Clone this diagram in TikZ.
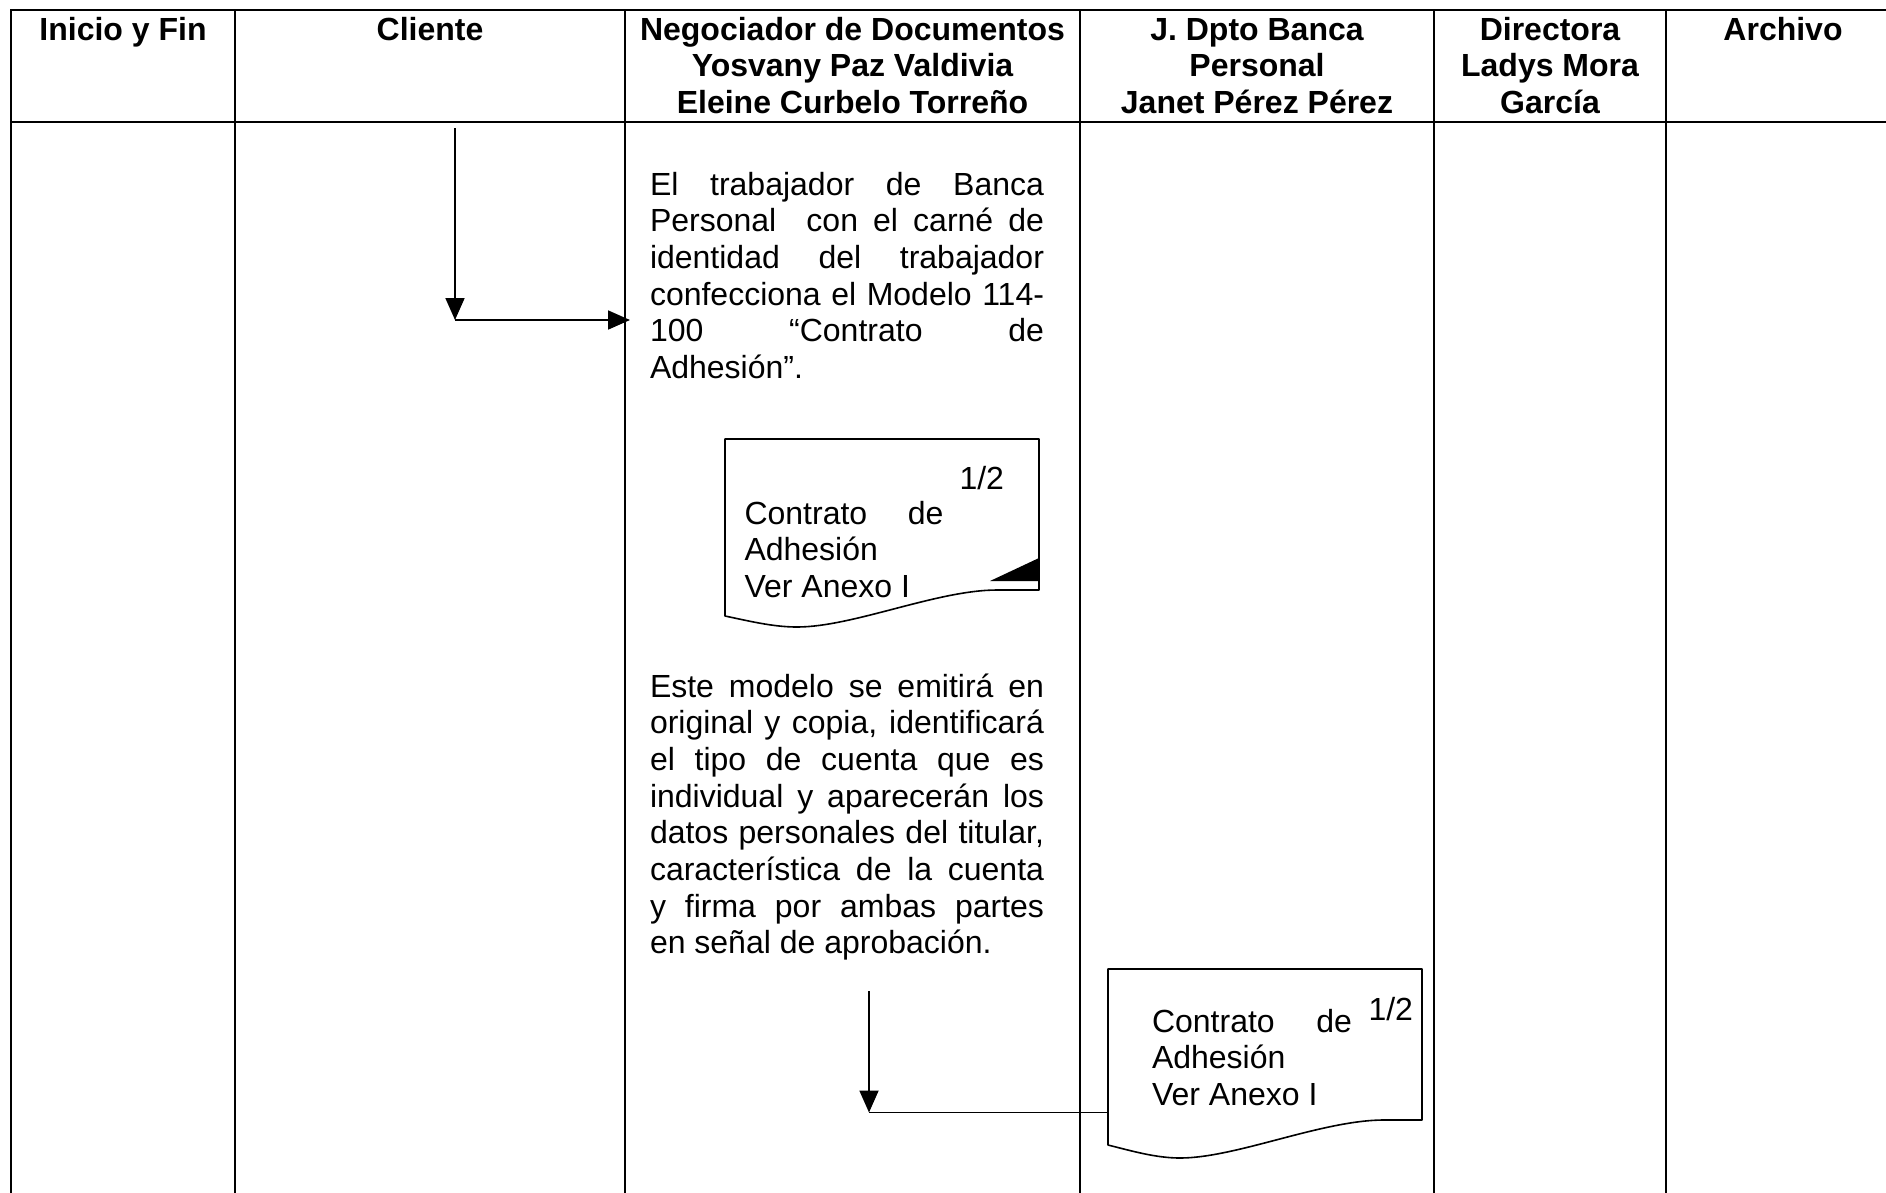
\documentclass[tikz,border=0pt]{standalone}
\usepackage{fontspec}
\setmainfont{Liberation Sans}
\usetikzlibrary{arrows.meta,calc}
\newcommand\jusln[2]{\hbox{\makebox[#1][s]{#2}}}
\newcommand\plainln[1]{\hbox{#1}}
\newcommand\ctrln[1]{\hbox to 0pt{\hss#1\hss}}
\newcommand\txtblock[1]{\vtop{\baselineskip=36.7pt\lineskiplimit=-100pt\lineskip=0pt #1}}
\tikzset{
  txt/.style={inner sep=0pt, outer sep=0pt, font=\fontsize{32}{36.7}\selectfont},
  hdr/.style={txt, anchor=base, font=\fontsize{32}{36.7}\selectfont\bfseries},
  tbl/.style={line width=2.2pt},
  arr/.style={line width=1.8pt, -{Triangle[length=22pt,width=19pt]}},
  ln/.style={line width=1.8pt},
  docline/.style={line width=1.6pt, line join=round},
  docbox/.style={inner sep=0pt, outer sep=0pt, minimum width=314pt, minimum height=151pt}
}
\begin{document}
\begin{tikzpicture}[x=1pt,y=-1pt]
\useasboundingbox (0,0) rectangle (1886,1192);
\fill[white] (0,0) rectangle (1886,1192);
\clip (0,0) rectangle (1886,1192);
% table grid
\draw[tbl] (11,1200) -- (11,10) -- (1900,10);
\draw[tbl] (11,122) -- (1900,122);
\foreach \xx in {235,625,1080,1434,1666}{\draw[tbl] (\xx,10) -- (\xx,1200);}
% headers
\node[hdr] (h1) at (123,40) {\txtblock{\ctrln{Inicio y Fin}}};
\node[hdr] (h2) at (430,40) {\txtblock{\ctrln{Cliente}}};
\node[hdr] (h3) at (852.5,40) {\txtblock{\ctrln{Negociador de Documentos}\ctrln{Yosvany Paz Valdivia}\ctrln{Eleine Curbelo Torreño}}};
\node[hdr] (h4) at (1257,40) {\txtblock{\ctrln{J. Dpto Banca}\ctrln{Personal}\ctrln{Janet Pérez Pérez}}};
\node[hdr] (h5) at (1550,40) {\txtblock{\ctrln{Directora}\ctrln{Ladys Mora}\ctrln{García}}};
\node[hdr] (h6) at (1783,40) {\txtblock{\ctrln{Archivo}}};
% paragraph 1
\node[txt, anchor=base west] (p1) at (650,195) {\txtblock{%
\jusln{394pt}{El trabajador de Banca}%
\jusln{394pt}{Personal\ \ con el carné de}%
\jusln{394pt}{identidad del trabajador}%
\jusln{394pt}{confecciona el Modelo 114-}%
\jusln{394pt}{100 “Contrato de}%
\plainln{Adhesión”.}}};
% paragraph 2
\node[txt, anchor=base west] (p2) at (650,697) {\txtblock{%
\jusln{394pt}{Este modelo se emitirá en}%
\jusln{394pt}{original y copia, identificará}%
\jusln{394pt}{el tipo de cuenta que es}%
\jusln{394pt}{individual y aparecerán los}%
\jusln{394pt}{datos personales del titular,}%
\jusln{394pt}{característica de la cuenta}%
\jusln{394pt}{y firma por ambas partes}%
\plainln{en señal de aprobación.}}};
% document 1
\node[docbox] (doc1) at (882,514.5) {};
\begin{scope}[shift={(doc1.north west)}]
\draw[docline] (0,0) -- (314,0) -- (314,151) -- (272,151) .. controls (212,151) and (128,188) .. (72,188) .. controls (48,188) and (24,182) .. (0,177) -- cycle;
\fill (265,142) -- (314,119) -- (314,142) -- cycle;
\end{scope}
\node[txt, anchor=base east] (d1n) at (1004,489) {1/2};
\node[txt, anchor=base west] (d1t) at (744.5,524) {\txtblock{%
\jusln{199pt}{Contrato de}%
\plainln{Adhesión}%
\plainln{Ver Anexo I}}};
% document 2
\node[docbox] (doc2) at (1265,1044.5) {};
\begin{scope}[shift={(doc2.north west)}]
\draw[docline] (0,0) -- (314,0) -- (314,151) -- (276,151) .. controls (214,151) and (128,189) .. (72,189) .. controls (48,189) and (24,182) .. (0,176) -- cycle;
\end{scope}
\node[txt, anchor=base east] (d2n) at (1413,1020) {1/2};
\node[txt, anchor=base west] (d2t) at (1152,1032) {\txtblock{%
\jusln{200pt}{Contrato de}%
\plainln{Adhesión}%
\plainln{Ver Anexo I}}};
% connectors
\coordinate (a1s) at (455,128);
\coordinate (a1c) at (455,320);
\coordinate (a1e) at (630,320);
\draw[arr] (a1s) -- (a1c);
\draw[arr] (a1c) -- (a1e);
\coordinate (a2s) at (869,991);
\coordinate (a2c) at (869,1112.5);
\draw[arr] (a2s) -- (a2c);
\draw[ln] (a2c) -- (a2c -| doc2.west);
\end{tikzpicture}
\end{document}
